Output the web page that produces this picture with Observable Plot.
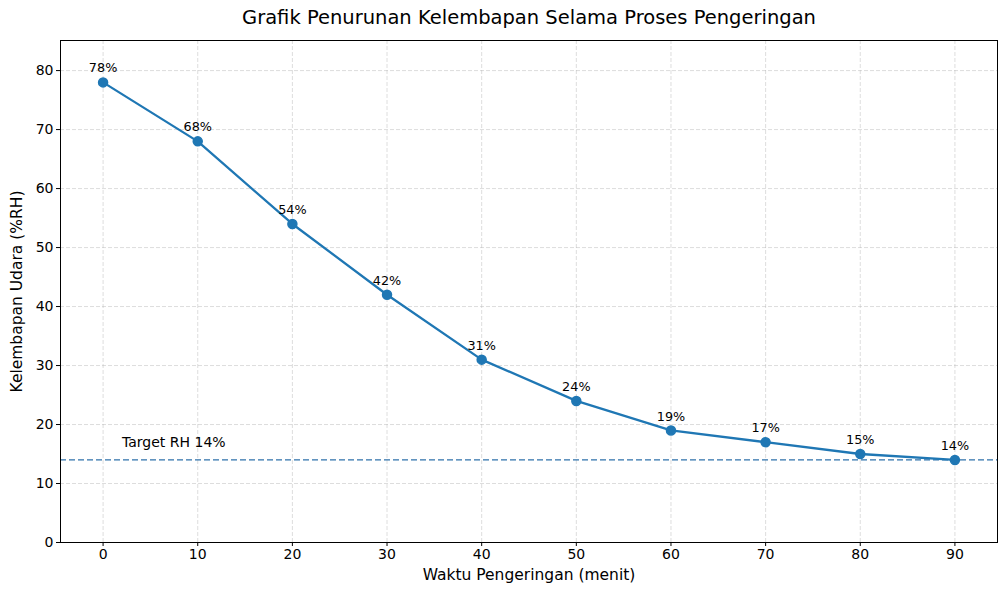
<!DOCTYPE html>
<html><head><meta charset="utf-8">
<script src="https://cdn.jsdelivr.net/npm/d3@7"></script>
<script src="https://cdn.jsdelivr.net/npm/@observablehq/plot@0.6"></script>
<style>body{margin:0;background:#fff;} svg{font-family:"DejaVu Sans",sans-serif;}</style>
</head><body><div id="chart"></div>
<script>
const minutes = [0, 10, 20, 30, 40, 50, 60, 70, 80, 90];
const humidity = [78, 68, 54, 42, 31, 24, 19, 17, 15, 14];
const xTicks = [0, 10, 20, 30, 40, 50, 60, 70, 80, 90];
const yTicks = [0, 10, 20, 30, 40, 50, 60, 70, 80];
const targetRH = 14;
const title = "Grafik Penurunan Kelembapan Selama Proses Pengeringan";
const xLabel = "Waktu Pengeringan (menit)";
const yLabel = "Kelembapan Udara (%RH)";
const targetLabel = "Target RH 14%";

const data = minutes.map((m, i) => ({m, h: humidity[i]}));
const blue = "#1f77b4";

const chart = Plot.plot({
  width: 1008, height: 592,
  marginLeft: 60, marginRight: 11, marginTop: 40, marginBottom: 50,
  style: {fontFamily: "DejaVu Sans, sans-serif", fontSize: "14px", color: "#000", background: "#fff"},
  x: {domain: [-4.5, 94.5], ticks: xTicks, tickSize: 4, tickPadding: 3, label: null},
  y: {domain: [0, 85.1], ticks: yTicks, tickSize: 4, tickPadding: 3, label: null},
  marks: [
    Plot.gridX(xTicks, {stroke: "#b0b0b0", strokeOpacity: 0.55, strokeDasharray: "4,2", strokeWidth: 0.8}),
    Plot.gridY(yTicks, {stroke: "#b0b0b0", strokeOpacity: 0.55, strokeDasharray: "4,2", strokeWidth: 0.8}),
    Plot.ruleY([targetRH], {stroke: "#2f72ab", strokeWidth: 1.2, strokeDasharray: "6,3"}),
    Plot.text([targetLabel], {x: 2, y: 17, text: d => d, textAnchor: "start", fontSize: 14, fill: "#000"}),
    Plot.line(data, {x: "m", y: "h", stroke: blue, strokeWidth: 2.3}),
    Plot.dot(data, {x: "m", y: "h", r: 4.5, fill: blue, stroke: blue}),
    Plot.text(data, {x: "m", y: "h", text: d => d.h + "%", dy: -14, fontSize: 12.8, fill: "#000"}),
    Plot.frame({stroke: "#000", strokeWidth: 1}),
    Plot.axisX({ticks: xTicks, tickSize: 4, tickPadding: 3, label: null, fontSize: 14}),
    Plot.axisY({ticks: yTicks, tickSize: 4, tickPadding: 3, label: null, fontSize: 14}),
    Plot.text([title], {frameAnchor: "top", lineAnchor: "middle", dy: -23, text: d => d, fontSize: 19.5, fill: "#000"}),
    Plot.text([xLabel], {frameAnchor: "bottom", lineAnchor: "middle", dy: 33, text: d => d, fontSize: 15.5, fill: "#000"}),
    Plot.text([yLabel], {frameAnchor: "left", textAnchor: "middle", lineAnchor: "middle", dx: -43, rotate: -90, text: d => d, fontSize: 15.5, fill: "#000"})
  ]
});
document.getElementById("chart").appendChild(chart);
</script></body></html>
